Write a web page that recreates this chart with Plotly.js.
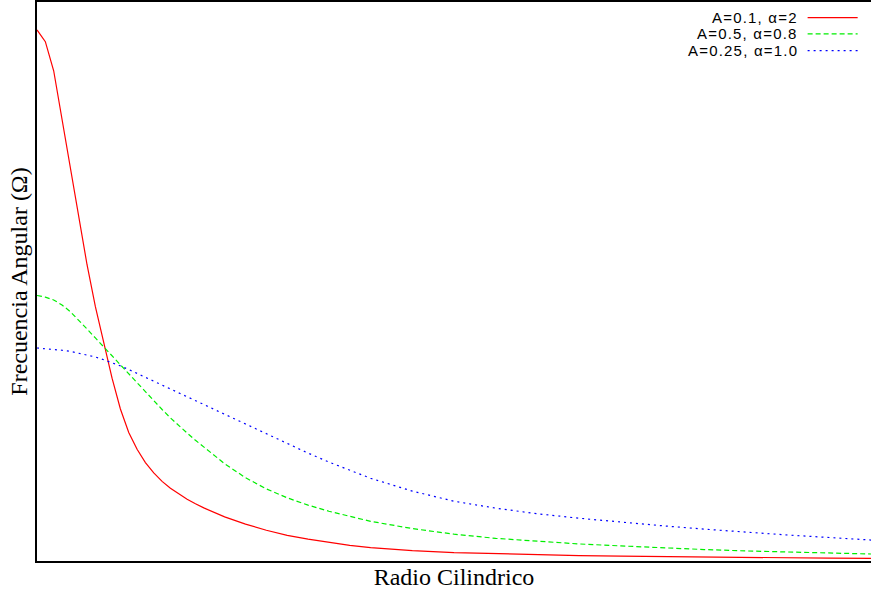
<!DOCTYPE html>
<html>
<head>
<meta charset="utf-8">
<script src="https://cdn.plot.ly/plotly-3.0.1.min.js"></script>
<style>
html,body{margin:0;padding:0;background:#fff;overflow:hidden}
.annotation-text{letter-spacing:1.2px}
</style>
</head>
<body>
<div id="chart" style="width:871px;height:595px"></div>
<script>
// Radial coordinate (arbitrary units, no ticks shown on the original)
const radio = [0, 0.1, 0.2, 0.3, 0.4, 0.5, 0.6, 0.7, 0.8, 0.9, 1.0, 1.1, 1.2, 1.3, 1.4, 1.5, 1.6, 1.7, 1.8, 1.9, 2.0,
  2.25, 2.5, 2.75, 3.0, 3.25, 3.5, 3.75, 4.0, 4.5, 5.0, 5.5, 6.0, 6.5, 7.0, 7.5, 8.0, 8.5, 9.0, 9.5, 10.0];

// A=0.1, alpha=2
const omegaA = [0.950, 0.929, 0.877, 0.789, 0.699, 0.612, 0.530, 0.455, 0.388, 0.327, 0.272, 0.230, 0.200, 0.176, 0.1575, 0.1425, 0.130, 0.1195, 0.1105, 0.1025, 0.095,
  0.079, 0.066, 0.055, 0.046, 0.039, 0.033, 0.028, 0.024, 0.0185, 0.015, 0.0128, 0.011, 0.0097, 0.0086, 0.0077, 0.0069, 0.0062, 0.0056, 0.0051, 0.0046];
// A=0.5, alpha=0.8
const omegaB = [0.475, 0.472, 0.467, 0.458, 0.446, 0.431, 0.415, 0.399, 0.383, 0.367, 0.351, 0.335, 0.318, 0.302, 0.286, 0.271, 0.256, 0.242, 0.229, 0.216, 0.204,
  0.174, 0.149, 0.129, 0.113, 0.100, 0.089, 0.0795, 0.071, 0.058, 0.048, 0.0405, 0.035, 0.0305, 0.027, 0.0235, 0.0205, 0.018, 0.016, 0.014, 0.0125];
// A=0.25, alpha=1.0
const omegaC = [0.381, 0.380, 0.379, 0.377, 0.375, 0.372, 0.369, 0.365, 0.360, 0.355, 0.349, 0.3425, 0.3355, 0.3285, 0.3215, 0.3145, 0.3075, 0.3005, 0.2935, 0.2865, 0.2795,
  0.262, 0.2445, 0.227, 0.210, 0.193, 0.177, 0.162, 0.148, 0.125, 0.107, 0.0945, 0.0845, 0.0765, 0.0695, 0.063, 0.057, 0.0515, 0.0465, 0.042, 0.0375];

const seriesNames = ["A=0.1, \u03b1=2", "A=0.5, \u03b1=0.8", "A=0.25, \u03b1=1.0"];
const seriesColors = ["#ff0000", "#00ee00", "#0000ff"];
const seriesDash = ["solid", "5px,3px", "2px,4px"];
const seriesData = [omegaA, omegaB, omegaC];

const traces = seriesData.map((ys, i) => ({
  type: "scatter",
  mode: "lines",
  x: radio,
  y: ys,
  name: seriesNames[i],
  line: {color: seriesColors[i], width: 1.2, dash: seriesDash[i], shape: "linear"},
  showlegend: false,
  hoverinfo: "skip"
}));

// Manual gnuplot-style legend: text right-aligned, sample line to its right
const legendRowsY = [0.972, 0.943, 0.913];
const annotations = seriesNames.map((n, i) => ({
  xref: "paper", yref: "paper",
  x: 0.914, y: legendRowsY[i],
  xanchor: "right", yanchor: "middle",
  text: n, showarrow: false, borderpad: 0,
  font: {family: "Liberation Sans, Arial, sans-serif", size: 15, color: "#000"}
}));
const shapes = seriesNames.map((n, i) => ({
  type: "line", xref: "paper", yref: "paper",
  x0: 0.924, x1: 0.984, y0: legendRowsY[i], y1: legendRowsY[i],
  line: {color: seriesColors[i], width: 1.2, dash: seriesDash[i]}
}));

const layout = {
  width: 871, height: 595,
  margin: {l: 37, r: 0, t: 2, b: 34},
  paper_bgcolor: "#fff", plot_bgcolor: "#fff",
  xaxis: {
    range: [0, 10], showgrid: false, zeroline: false,
    showticklabels: false, ticks: "",
    showline: true, mirror: true, linecolor: "#000", linewidth: 2,
    title: {text: "Radio Cilindrico", standoff: 6,
      font: {family: "Liberation Serif, Times New Roman, serif", size: 24, color: "#000"}}
  },
  yaxis: {
    range: [0, 1], showgrid: false, zeroline: false,
    showticklabels: false, ticks: "",
    showline: true, linecolor: "#000", linewidth: 2,
    title: {text: "Frecuencia Angular (\u03a9)", standoff: 1,
      font: {family: "Liberation Serif, Times New Roman, serif", size: 24, color: "#000"}}
  },
  annotations: annotations,
  shapes: shapes,
  showlegend: false
};

Plotly.newPlot("chart", traces, layout, {staticPlot: true, displayModeBar: false});
</script>
</body>
</html>
